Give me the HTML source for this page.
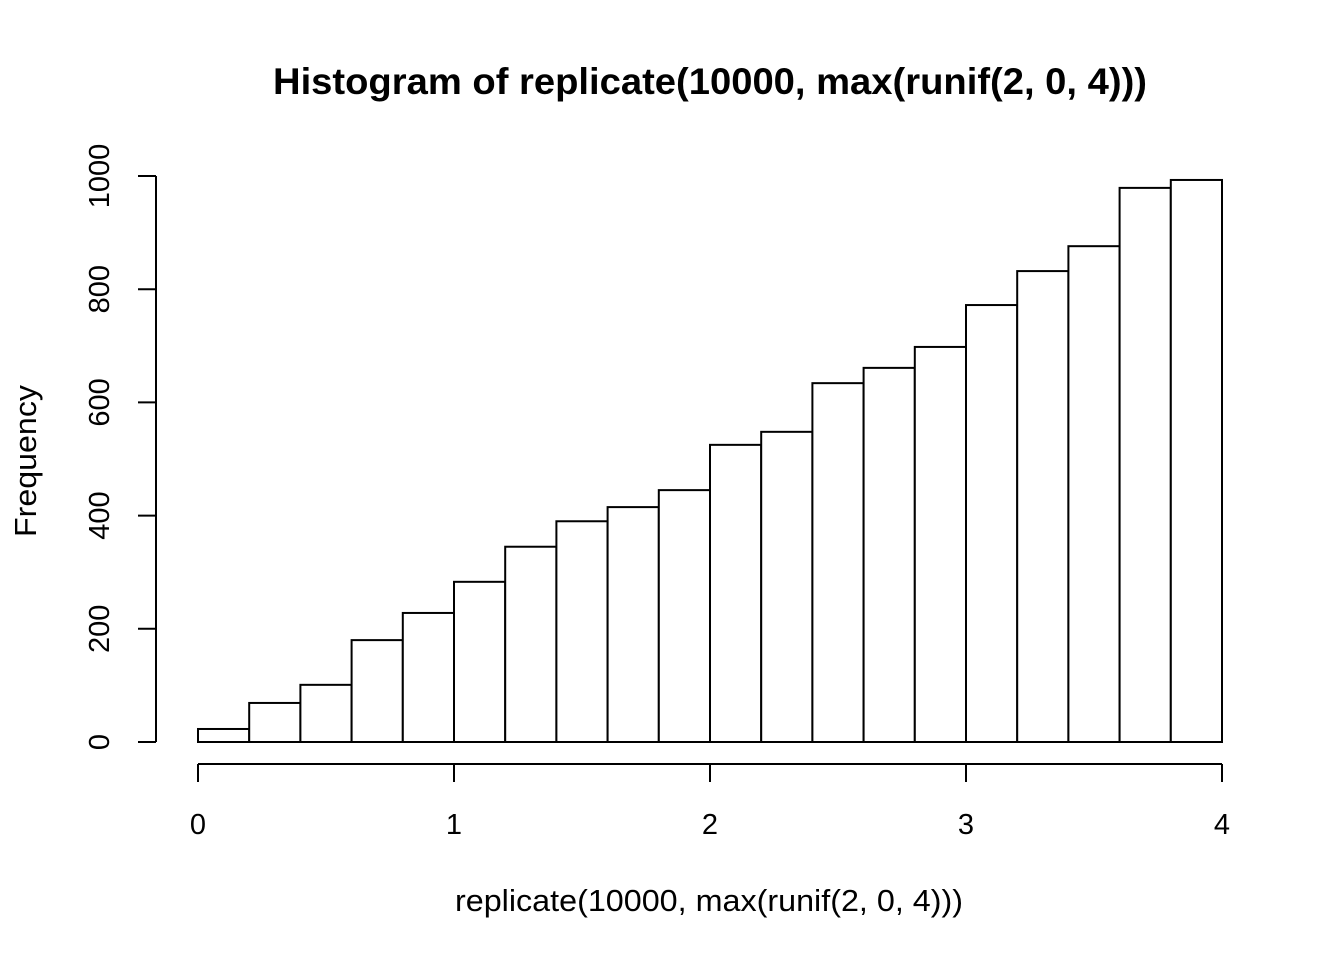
<!DOCTYPE html>
<html><head><meta charset="utf-8"><style>
html,body{margin:0;padding:0;background:#fff;}
svg{display:block;font-family:"Liberation Sans",Arial,sans-serif;}
</style></head><body>
<svg id="chart" width="1344" height="960">
<text x="710" y="94" text-anchor="middle" font-size="37" font-weight="bold" textLength="874" lengthAdjust="spacingAndGlyphs">Histogram of replicate(10000, max(runif(2, 0, 4)))</text>
<text x="709" y="911" text-anchor="middle" font-size="31" textLength="508" lengthAdjust="spacingAndGlyphs">replicate(10000, max(runif(2, 0, 4)))</text>
<text transform="translate(36,461) rotate(-90)" text-anchor="middle" font-size="31" textLength="152" lengthAdjust="spacingAndGlyphs">Frequency</text>
<g id="bars"></g><g id="axes"></g>
</svg>
<script>
const breaks = [0,0.2,0.4,0.6,0.8,1,1.2,1.4,1.6,1.8,2,2.2,2.4,2.6,2.8,3,3.2,3.4,3.6,3.8,4];
const counts = [23,69,101,180,228,283,345,390,415,445,525,548,634,661,698,772,832,876,979,993];
const xTicks = [0,1,2,3,4];
const yTicks = [0,200,400,600,800,1000];
const NS="http://www.w3.org/2000/svg";
const xs=v=>198+v*256;
const ys=v=>742-v*0.566;
function mk(tag,attrs,parent){const e=document.createElementNS(NS,tag);for(const k in attrs)e.setAttribute(k,attrs[k]);parent.appendChild(e);return e;}
const bars=document.getElementById('bars'), axes=document.getElementById('axes');
counts.forEach((c,i)=>{
  const r=mk('rect',{x:xs(breaks[i]),y:ys(c),width:xs(breaks[i+1])-xs(breaks[i]),height:ys(0)-ys(c),fill:'#fff',stroke:'#000','stroke-width':2},bars);
  
  
});
const xl=mk('line',{x1:xs(xTicks[0]),x2:xs(xTicks[xTicks.length-1]),y1:764,y2:764,stroke:'#000','stroke-width':2},axes);


xTicks.forEach(t=>{
  mk('line',{x1:xs(t),x2:xs(t),y1:764,y2:782,stroke:'#000','stroke-width':2},axes);
  const tx=mk('text',{x:xs(t),y:834,'text-anchor':'middle','font-size':29},axes);
  tx.textContent=t;
  
  
});
const yl=mk('line',{x1:156,x2:156,y1:ys(yTicks[0]),y2:ys(yTicks[yTicks.length-1]),stroke:'#000','stroke-width':2},axes);


yTicks.forEach(t=>{
  mk('line',{x1:138,x2:156,y1:ys(t),y2:ys(t),stroke:'#000','stroke-width':2},axes);
  const tx=mk('text',{transform:`translate(109,${ys(t)}) rotate(-90)`,'text-anchor':'middle','font-size':29},axes);
  tx.textContent=t;
  
  
});
</script>
</body></html>
